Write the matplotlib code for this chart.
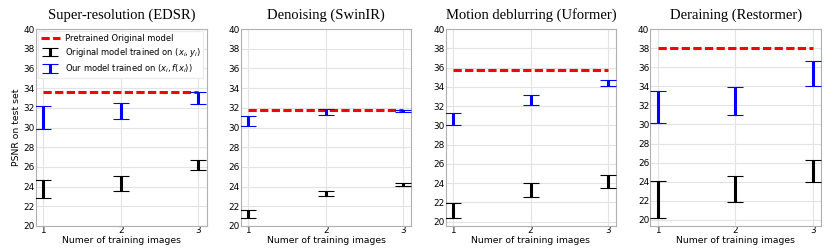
import matplotlib
matplotlib.use("Agg")
import matplotlib.pyplot as plt
import numpy as np

titles = ["Super-resolution (EDSR)", "Denoising (SwinIR)",
          "Motion deblurring (Uformer)", "Deraining (Restormer)"]
n_images = [1, 2, 3]

pretrained = [33.6, 31.8, 35.7, 38.0]

orig_low = [[22.8, 23.55, 25.65], [20.8, 23.0, 24.03], [20.42, 22.56, 23.5], [20.25, 21.86, 23.94]]
orig_high = [[24.65, 25.05, 26.75], [21.6, 23.6, 24.4], [21.9, 24.0, 24.8], [24.05, 24.65, 26.3]]

ours_low = [[29.83, 30.88, 32.37], [30.14, 31.25, 31.53], [30.02, 32.1, 34.04], [30.19, 31.04, 34.06]]
ours_high = [[32.2, 32.47, 33.6], [31.12, 31.83, 31.8], [31.33, 33.2, 34.66], [33.46, 33.88, 36.7]]

ylims = [(20, 40), (20, 40), (19.55, 40), (19.37, 40)]
yticks = [20, 22, 24, 26, 28, 30, 32, 34, 36, 38, 40]

fig, axes = plt.subplots(1, 4, figsize=(8.31, 2.49), dpi=100)
fig.subplots_adjust(left=0.0433, right=0.988, top=0.8835, bottom=0.0924, wspace=0.2)

for i, ax in enumerate(axes):
    x = np.array(n_images)
    ol = np.array(orig_low[i]); oh = np.array(orig_high[i])
    ul = np.array(ours_low[i]); uh = np.array(ours_high[i])
    ax.plot([x[0], x[-1]], [pretrained[i]] * 2, color="red", ls=(0, (2.7, 1.1)), lw=2.2,
            label="Pretrained Original model", zorder=3)
    ax.errorbar(x, (ol + oh) / 2, yerr=(oh - ol) / 2, fmt="none", ecolor="black",
                elinewidth=2.2, capsize=5.5, capthick=0.8,
                label="Original model trained on $(x_i, y_i)$", zorder=4)
    ax.errorbar(x, (ul + uh) / 2, yerr=(uh - ul) / 2, fmt="none", ecolor="blue",
                elinewidth=2.2, capsize=5.5, capthick=0.8,
                label="Our model trained on $(x_i, f(x_i))$", zorder=4)
    ax.set_xlim(0.905, 3.105)
    ax.set_ylim(*ylims[i])
    ax.set_yticks(yticks)
    ax.set_xticks(n_images)
    ax.grid(True, color="#e3e3e3", lw=0.8)
    ax.set_axisbelow(True)
    ax.tick_params(length=0, labelsize=6.4)
    ax.tick_params(axis="x", pad=0.3)
    ax.tick_params(axis="y", pad=0.8)
    for s in ax.spines.values():
        s.set_color("#b0b0b0")
        s.set_linewidth(0.8)
    ax.set_title(titles[i], family="Liberation Serif", fontsize=10.5, pad=7)
    ax.set_xlabel("Numer of training images", fontsize=6.7, labelpad=0.5)
    if i == 0:
        ax.set_ylabel("PSNR on test set", fontsize=6.7, labelpad=2)
        ax.legend(loc="upper left", fontsize=6.0, frameon=True, framealpha=1,
                  edgecolor="#ececec", fancybox=False, borderpad=0.35,
                  handlelength=2.3, handletextpad=0.6, labelspacing=0.4,
                  borderaxespad=0.2)

fig.savefig("out.png", dpi=100)
